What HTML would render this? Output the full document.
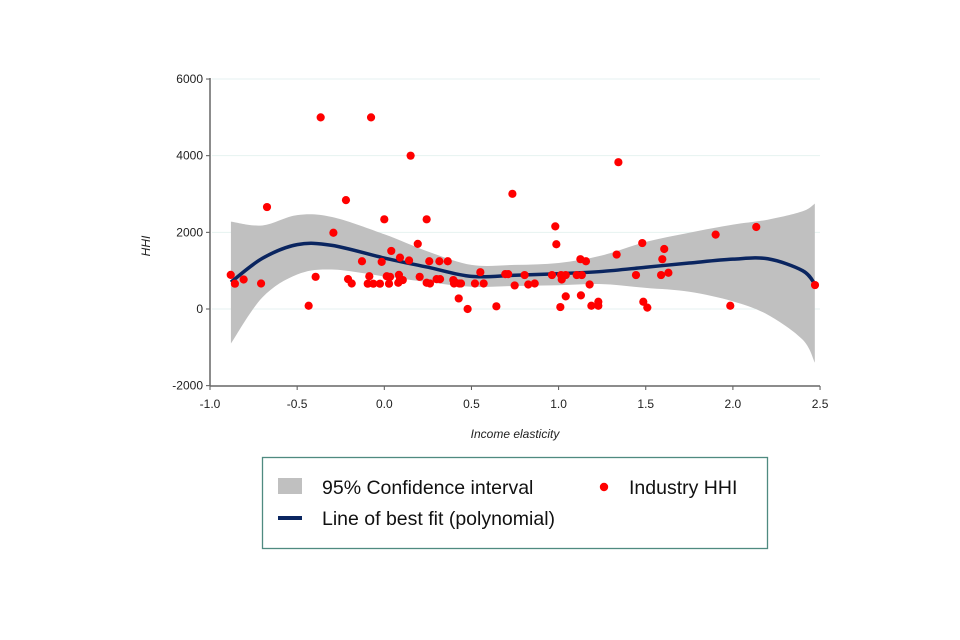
<!DOCTYPE html>
<html><head><meta charset="utf-8"><style>
body{margin:0;background:#fff;}
svg{display:block;font-family:"Liberation Sans",Arial,sans-serif;}
</style></head><body>
<svg id="chart" width="960" height="640" viewBox="0 0 960 640">
<g id="grid"></g><g id="band"></g><g id="fit"></g><g id="pts"></g><g id="axes"></g>
<text x="150" y="246" font-size="12" font-style="italic" fill="#222" transform="rotate(-90 150 246)" text-anchor="middle">HHI</text>
<text x="515" y="438" font-size="12" font-style="italic" fill="#222" text-anchor="middle">Income elasticity</text>
<g>
<rect x="262.5" y="457.5" width="505" height="91" fill="#fff" stroke="#4f8a80" stroke-width="1.3"/>
<rect x="278" y="478" width="24" height="16" fill="#c0c0c0"/>
<text x="322" y="494" font-size="19.5" fill="#111">95% Confidence interval</text>
<circle cx="604" cy="487" r="4.2" fill="#f00"/>
<text x="629" y="494" font-size="19.5" fill="#111">Industry HHI</text>
<line x1="278" y1="518" x2="302" y2="518" stroke="#0a2560" stroke-width="4"/>
<text x="322" y="525" font-size="19.5" fill="#111">Line of best fit (polynomial)</text>
</g>
</svg>
<script>
const xTicks=[-1.0,-0.5,0.0,0.5,1.0,1.5,2.0,2.5];
const xTickLabels=["-1.0","-0.5","0.0","0.5","1.0","1.5","2.0","2.5"];
const yTicks=[-2000,0,2000,4000,6000];
const yTickLabels=["-2000","0","2000","4000","6000"];
const ptX=[-0.365,-0.076,0.151,-0.673,-0.22,0.735,0.0,0.243,-0.292,0.192,0.04,0.09,-0.128,-0.015,0.142,0.258,0.316,0.364,-0.881,-0.857,-0.807,-0.707,-0.394,-0.434,-0.208,-0.187,-0.086,-0.095,-0.063,-0.025,0.014,0.033,0.027,0.084,0.09,0.106,0.08,0.203,0.243,0.262,0.30,0.32,0.396,0.40,0.41,0.43,0.44,0.427,0.478,0.52,0.57,0.551,0.643,0.694,0.711,0.748,1.343,0.981,0.987,1.901,2.134,1.48,1.606,1.333,1.125,1.157,1.595,0.805,0.962,1.014,1.041,1.018,1.104,1.133,1.444,1.588,1.63,0.826,0.863,1.178,1.041,1.128,1.01,1.188,1.228,1.228,1.486,1.509,1.985,2.471];
const ptY=[5000,5000,4000,2660,2840,3005,2340,2340,1990,1700,1515,1340,1245,1230,1265,1245,1245,1245,890,660,770,665,840,85,780,665,855,660,660,660,855,840,660,890,780,755,685,840,685,665,780,780,755,665,685,665,665,275,0,665,665,960,70,910,910,615,3830,2155,1690,1940,2140,1720,1565,1420,1300,1245,1300,885,885,885,885,770,885,885,885,885,945,640,665,640,330,355,50,85,190,85,190,35,85,625];
const curveX=[-0.88,-0.7,-0.5,-0.3,0.0,0.25,0.5,0.75,1.0,1.25,1.5,1.75,2.0,2.2,2.4,2.47];
const fitY=[700,1320,1680,1660,1330,1090,850,880,920,980,1090,1200,1300,1310,1000,650];
const ciUpper=[2280,2180,2450,2400,1950,1500,1150,1150,1200,1400,1750,1990,2200,2330,2550,2750];
const ciLower=[-900,300,900,1030,850,700,580,600,620,650,550,450,200,-150,-800,-1400];

const NS="http://www.w3.org/2000/svg";
const X=v=>210+(v+1)*174.3;
const Y=v=>309-v*0.03833;
function mk(tag,attrs,parent){const e=document.createElementNS(NS,tag);for(const k in attrs)e.setAttribute(k,attrs[k]);document.getElementById(parent).appendChild(e);return e;}
function smooth(xs,ys){let d=`M${X(xs[0])},${Y(ys[0])}`;for(let i=0;i<xs.length-1;i++){const x0=X(xs[Math.max(i-1,0)]),y0=Y(ys[Math.max(i-1,0)]),x1=X(xs[i]),y1=Y(ys[i]),x2=X(xs[i+1]),y2=Y(ys[i+1]),x3=X(xs[Math.min(i+2,xs.length-1)]),y3=Y(ys[Math.min(i+2,xs.length-1)]);d+=` C${x1+(x2-x0)/6},${y1+(y2-y0)/6} ${x2-(x3-x1)/6},${y2-(y3-y1)/6} ${x2},${y2}`;}return d;}
yTicks.forEach((t,i)=>{
 if(t>-2000){const g=mk('line',{x1:212,x2:820,y1:Y(t),y2:Y(t),stroke:'#e6f2f0','stroke-width':1},'grid');
 
 }
 const tk=mk('line',{x1:206,x2:210,y1:Y(t),y2:Y(t),stroke:'#555'},'axes');
 
 
 const l=mk('text',{x:203,y:Y(t)+4,'font-size':12,'text-anchor':'end',fill:'#222'},'axes');l.textContent=yTickLabels[i];
 
 
});
xTicks.forEach((t,i)=>{
 const tk=mk('line',{x1:X(t),x2:X(t),y1:386,y2:390,stroke:'#555'},'axes');
 
 
 const l=mk('text',{x:X(t),y:408,'font-size':12,'text-anchor':'middle',fill:'#222'},'axes');l.textContent=xTickLabels[i];
 
 
});
const ya=mk('line',{x1:210,x2:210,y1:78,y2:386,stroke:'#666','stroke-width':1.5},'axes');


const xa=mk('line',{x1:210,x2:820,y1:386,y2:386,stroke:'#666','stroke-width':1.5},'axes');


const up=smooth(curveX,ciUpper);
const lo=smooth(curveX.slice().reverse(),ciLower.slice().reverse());
const band=mk('path',{d:up+' L'+lo.slice(1)+' Z',fill:'#c0c0c0'},'band');


const fit=mk('path',{d:smooth(curveX,fitY),fill:'none',stroke:'#0a2560','stroke-width':3.5},'fit');


ptX.forEach((v,i)=>{const c=mk('circle',{cx:X(v),cy:Y(ptY[i]),r:4.1,fill:'#f00'},'pts');
 
 });
</script>
</body></html>
